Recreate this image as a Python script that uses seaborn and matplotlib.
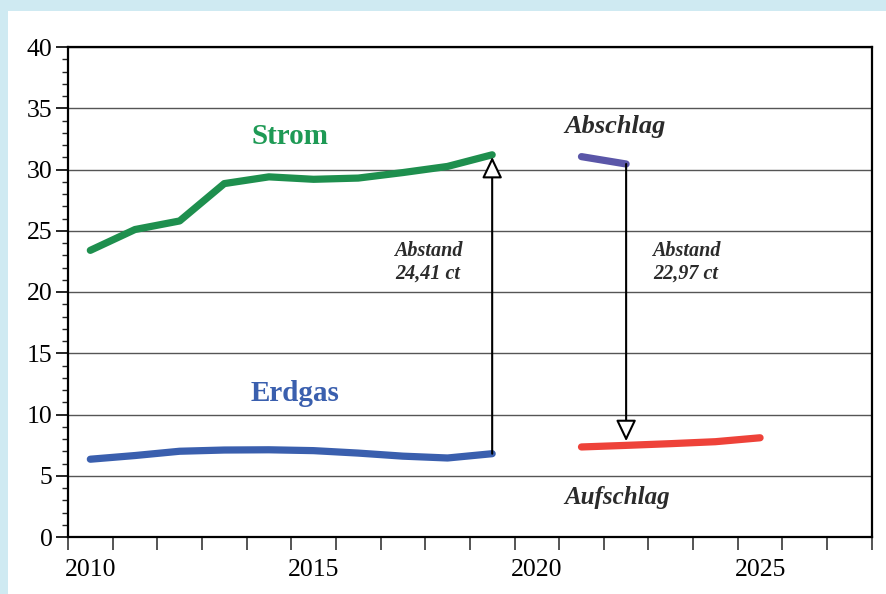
import numpy as np
import pandas as pd
import matplotlib
matplotlib.use("Agg")
import matplotlib.pyplot as plt
from matplotlib.patches import Rectangle
from matplotlib.ticker import MultipleLocator, FixedLocator, NullFormatter
import seaborn as sns

# values in ct/kWh
strom_years = [2010, 2011, 2012, 2013, 2014, 2015, 2016, 2017, 2018, 2019]
strom = [23.4, 25.1, 25.8, 28.85, 29.4, 29.2, 29.3, 29.75, 30.25, 31.2]

erdgas_years = [2010, 2011, 2012, 2013, 2014, 2015, 2016, 2017, 2018, 2019]
erdgas = [6.35, 6.65, 7.0, 7.1, 7.12, 7.05, 6.85, 6.6, 6.45, 6.8]

abschlag_years = [2021, 2022]
abschlag = [31.05, 30.45]

aufschlag_years = [2021, 2022, 2023, 2024, 2025]
aufschlag = [7.35, 7.48, 7.62, 7.78, 8.1]

label_years = [2010, 2015, 2020, 2025]

sns.set_theme(style="white")
plt.rcParams['font.family'] = ['Liberation Serif', 'DejaVu Serif']

fig = plt.figure(figsize=(8.87, 5.94), dpi=100, facecolor='#cfeaf2')
fig.patches.append(Rectangle((8 / 887, 0), 1, 583 / 594, transform=fig.transFigure,
                             facecolor='white', edgecolor='none', zorder=-10))
ax = fig.add_axes([68 / 887, 57 / 594, (871.7 - 68) / 887, 490 / 594])
ax.set_zorder(2)
ax.set_facecolor('white')

# each year is drawn in the middle of its interval
series = [
    (strom_years, strom, '#1e8f4e'),
    (erdgas_years, erdgas, '#3a5fae'),
    (abschlag_years, abschlag, '#5a56a8'),
    (aufschlag_years, aufschlag, '#ee4239'),
]
for yrs, vals, col in series:
    df = pd.DataFrame({'x': np.array(yrs) + 0.5, 'y': vals})
    sns.lineplot(data=df, x='x', y='y', ax=ax, color=col, linewidth=5.2,
                 solid_capstyle='round', solid_joinstyle='round', zorder=3)

ax.set_xlim(2010, 2028)
ax.set_ylim(0, 40)
ax.set_xlabel('')
ax.set_ylabel('')

ax.yaxis.set_major_locator(MultipleLocator(5))
ax.yaxis.set_minor_locator(MultipleLocator(1))
ax.xaxis.set_major_locator(MultipleLocator(1))
ax.xaxis.set_major_formatter(NullFormatter())
ax.xaxis.set_minor_locator(FixedLocator([y + 0.5 for y in label_years]))
ax.xaxis.set_minor_formatter(plt.FixedFormatter([str(y) for y in label_years]))

ax.tick_params(axis='y', which='major', direction='out', length=9, width=1.2,
               labelsize=18.5, pad=2, colors='black', left=True)
ax.tick_params(axis='y', which='minor', direction='out', length=4.5, width=1.0, left=True)
ax.tick_params(axis='x', which='major', direction='out', length=9, width=1.1, bottom=True)
ax.tick_params(axis='x', which='minor', length=0, labelsize=18.5, pad=16, colors='black')

ax.yaxis.grid(True, which='major', color='#555555', linewidth=1.0)
ax.xaxis.grid(False)
for s in ax.spines.values():
    s.set_visible(True)
    s.set_color('black')
    s.set_linewidth(1.6)

arrow = dict(arrowstyle='-|>,head_length=1.3,head_width=0.62', fc='white', ec='black',
             lw=1.5, shrinkA=0, mutation_scale=10)
ax.annotate('', xy=(strom_years[-1] + 0.5, strom[-1]), xytext=(erdgas_years[-1] + 0.5, erdgas[-1]),
            arrowprops=dict(arrow, shrinkB=1.5), zorder=4)
ax.annotate('', xy=(abschlag_years[-1] + 0.5, aufschlag[1]), xytext=(abschlag_years[-1] + 0.5, abschlag[-1]),
            arrowprops=dict(arrow, shrinkB=3), zorder=4)

ax.text(2014.97, 32.7, 'Strom', color='#1e9a55', fontsize=21, fontweight='bold',
        ha='center', va='center')
ax.text(2015.08, 11.75, 'Erdgas', color='#3a5fae', fontsize=21, fontweight='bold',
        ha='center', va='center')
ax.text(2022.25, 33.5, 'Abschlag', color='#2b2b2b', fontsize=19, fontweight='bold',
        style='italic', ha='center', va='center')
ax.text(2022.3, 3.2, 'Aufschlag', color='#2b2b2b', fontsize=18, fontweight='bold',
        style='italic', ha='center', va='center')
ax.text(2018.06, 22.45, 'Abstand\n24,41 ct', color='#2b2b2b', fontsize=14.5, fontweight='bold',
        style='italic', ha='center', va='center', linespacing=1.15)
ax.text(2023.84, 22.45, 'Abstand\n22,97 ct', color='#2b2b2b', fontsize=14.5, fontweight='bold',
        style='italic', ha='center', va='center', linespacing=1.15)

fig.savefig('out.png', dpi=100, facecolor=fig.get_facecolor())
